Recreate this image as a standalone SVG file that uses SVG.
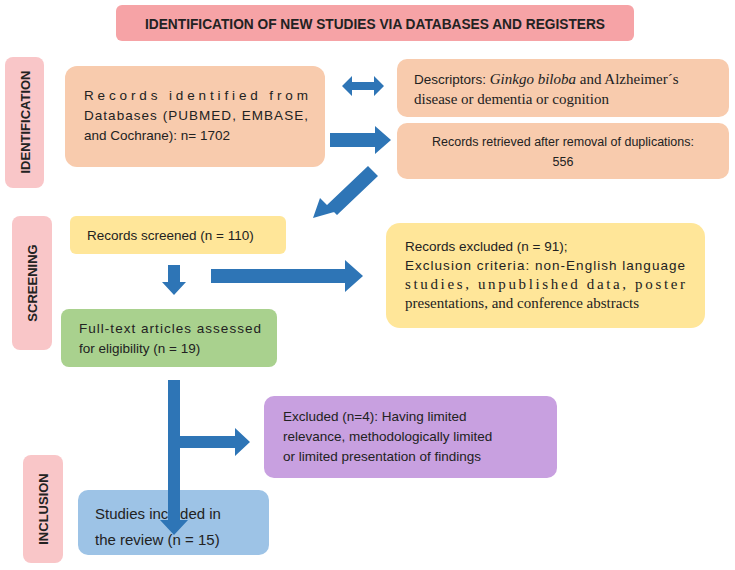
<svg xmlns="http://www.w3.org/2000/svg" width="735" height="570" viewBox="0 0 735 570">
<style>
text{font-family:"Liberation Sans",Arial,sans-serif;font-size:13.5px;fill:#222}
.serif{font-family:"Liberation Serif","Times New Roman",serif;font-size:15px}
.side{font-weight:bold;font-size:13px;fill:#222}
.pill{fill:#f9c6c8}
.arr{fill:#2e75b6}
</style>
<rect width="735" height="570" fill="#fff"/>
<g id="title"><rect x="116" y="5" width="518" height="36" rx="6" fill="#f6a3a6"/>
<text x="375" y="29" text-anchor="middle" style="font-weight:bold;font-size:14px" textLength="460" lengthAdjust="spacingAndGlyphs">IDENTIFICATION OF NEW STUDIES VIA DATABASES AND REGISTERS</text></g>
<g id="lbl-identification"><rect class="pill" x="5" y="57" width="39" height="131" rx="8"/>
<text class="side" transform="translate(30,122) rotate(-90)" text-anchor="middle">IDENTIFICATION</text></g>
<g id="lbl-screening"><rect class="pill" x="12" y="216" width="40" height="134" rx="8"/>
<text class="side" transform="translate(37,283) rotate(-90)" text-anchor="middle">SCREENING</text></g>
<g id="lbl-inclusion"><rect class="pill" x="23" y="455" width="40" height="108" rx="8"/>
<text class="side" transform="translate(48,509) rotate(-90)" text-anchor="middle">INCLUSION</text></g>
<g id="n-records"><rect x="65" y="66" width="260" height="101" rx="12" fill="#f8cbad"/>
<text x="84" y="100" textLength="224" lengthAdjust="spacing">Records     identified     from</text>
<text x="84" y="120" textLength="224" lengthAdjust="spacing">Databases (PUBMED, EMBASE,</text>
<text x="84" y="140">and Cochrane): n= 1702</text></g>
<g id="n-descriptors"><rect x="397" y="59" width="332" height="58" rx="10" fill="#f8cbad"/>
<text x="414" y="84">Descriptors: <tspan class="serif" font-style="italic">Ginkgo biloba</tspan><tspan class="serif"> and Alzheimer´s</tspan></text>
<text x="414" y="104" class="serif">disease or dementia or cognition</text></g>
<g id="n-retrieved"><rect x="397" y="123" width="332" height="56" rx="10" fill="#f8cbad"/>
<text x="563" y="146" text-anchor="middle" style="font-size:12.5px">Records retrieved after removal of duplications:</text>
<text x="563" y="166" text-anchor="middle" style="font-size:12.5px">556</text></g>
<g id="n-screened"><rect x="70" y="216" width="216" height="38" rx="6" fill="#ffe699"/>
<text x="87" y="240">Records screened (n = 110)</text></g>
<g id="n-excluded1"><rect x="386" y="223" width="319" height="105" rx="14" fill="#ffe699"/>
<text x="405" y="251">Records excluded (n = 91);</text>
<text x="405" y="270" textLength="280" lengthAdjust="spacing">Exclusion criteria: non-English language</text>
<text x="405" y="289" class="serif" textLength="280" lengthAdjust="spacing">studies,   unpublished   data,   poster</text>
<text x="405" y="308" class="serif">presentations, and conference abstracts</text></g>
<g id="n-fulltext"><rect x="61" y="309" width="216" height="58" rx="8" fill="#a9d18e"/>
<text x="79" y="333" textLength="182" lengthAdjust="spacing">Full-text  articles  assessed</text>
<text x="79" y="353">for eligibility (n = 19)</text></g>
<g id="n-excluded2"><rect x="264" y="396" width="293" height="82" rx="10" fill="#c8a0e0"/>
<text x="283" y="421">Excluded (n=4): Having limited</text>
<text x="283" y="441">relevance, methodologically limited</text>
<text x="283" y="461">or limited presentation of findings</text></g>
<g id="n-included"><rect x="78" y="490" width="191" height="65" rx="10" fill="#9dc3e6"/>
<text x="95" y="519" style="font-size:15px">Studies included in</text>
<text x="95" y="545" style="font-size:15px">the review (n =  15)</text></g>
<g id="connectors">
<polygon class="arr" points="342,86 352,76 352,82 374,82 374,76 384,86 374,96 374,90 352,90 352,96" fill="#4472c4"/>
<polygon class="arr" points="330,133 375,133 375,126 391,140 375,154 375,147 330,147"/>
<polygon class="arr" points="378,176 368,166 327,205 320,198 313,218 334,212 327,205 337,215 378,176" transform=""/>
<polygon class="arr" points="168,265 180,265 180,282 186,282 174,295 162,282 168,282"/>
<polygon class="arr" points="211,269 345,269 345,260 363,276 345,292 345,283 211,283"/>
<polygon class="arr" points="168,380 180,380 180,436 235,436 235,428 250,442 235,456 235,448 180,448 180,520 188,520 174,535 160,520 168,520"/>
</g>
</svg>
